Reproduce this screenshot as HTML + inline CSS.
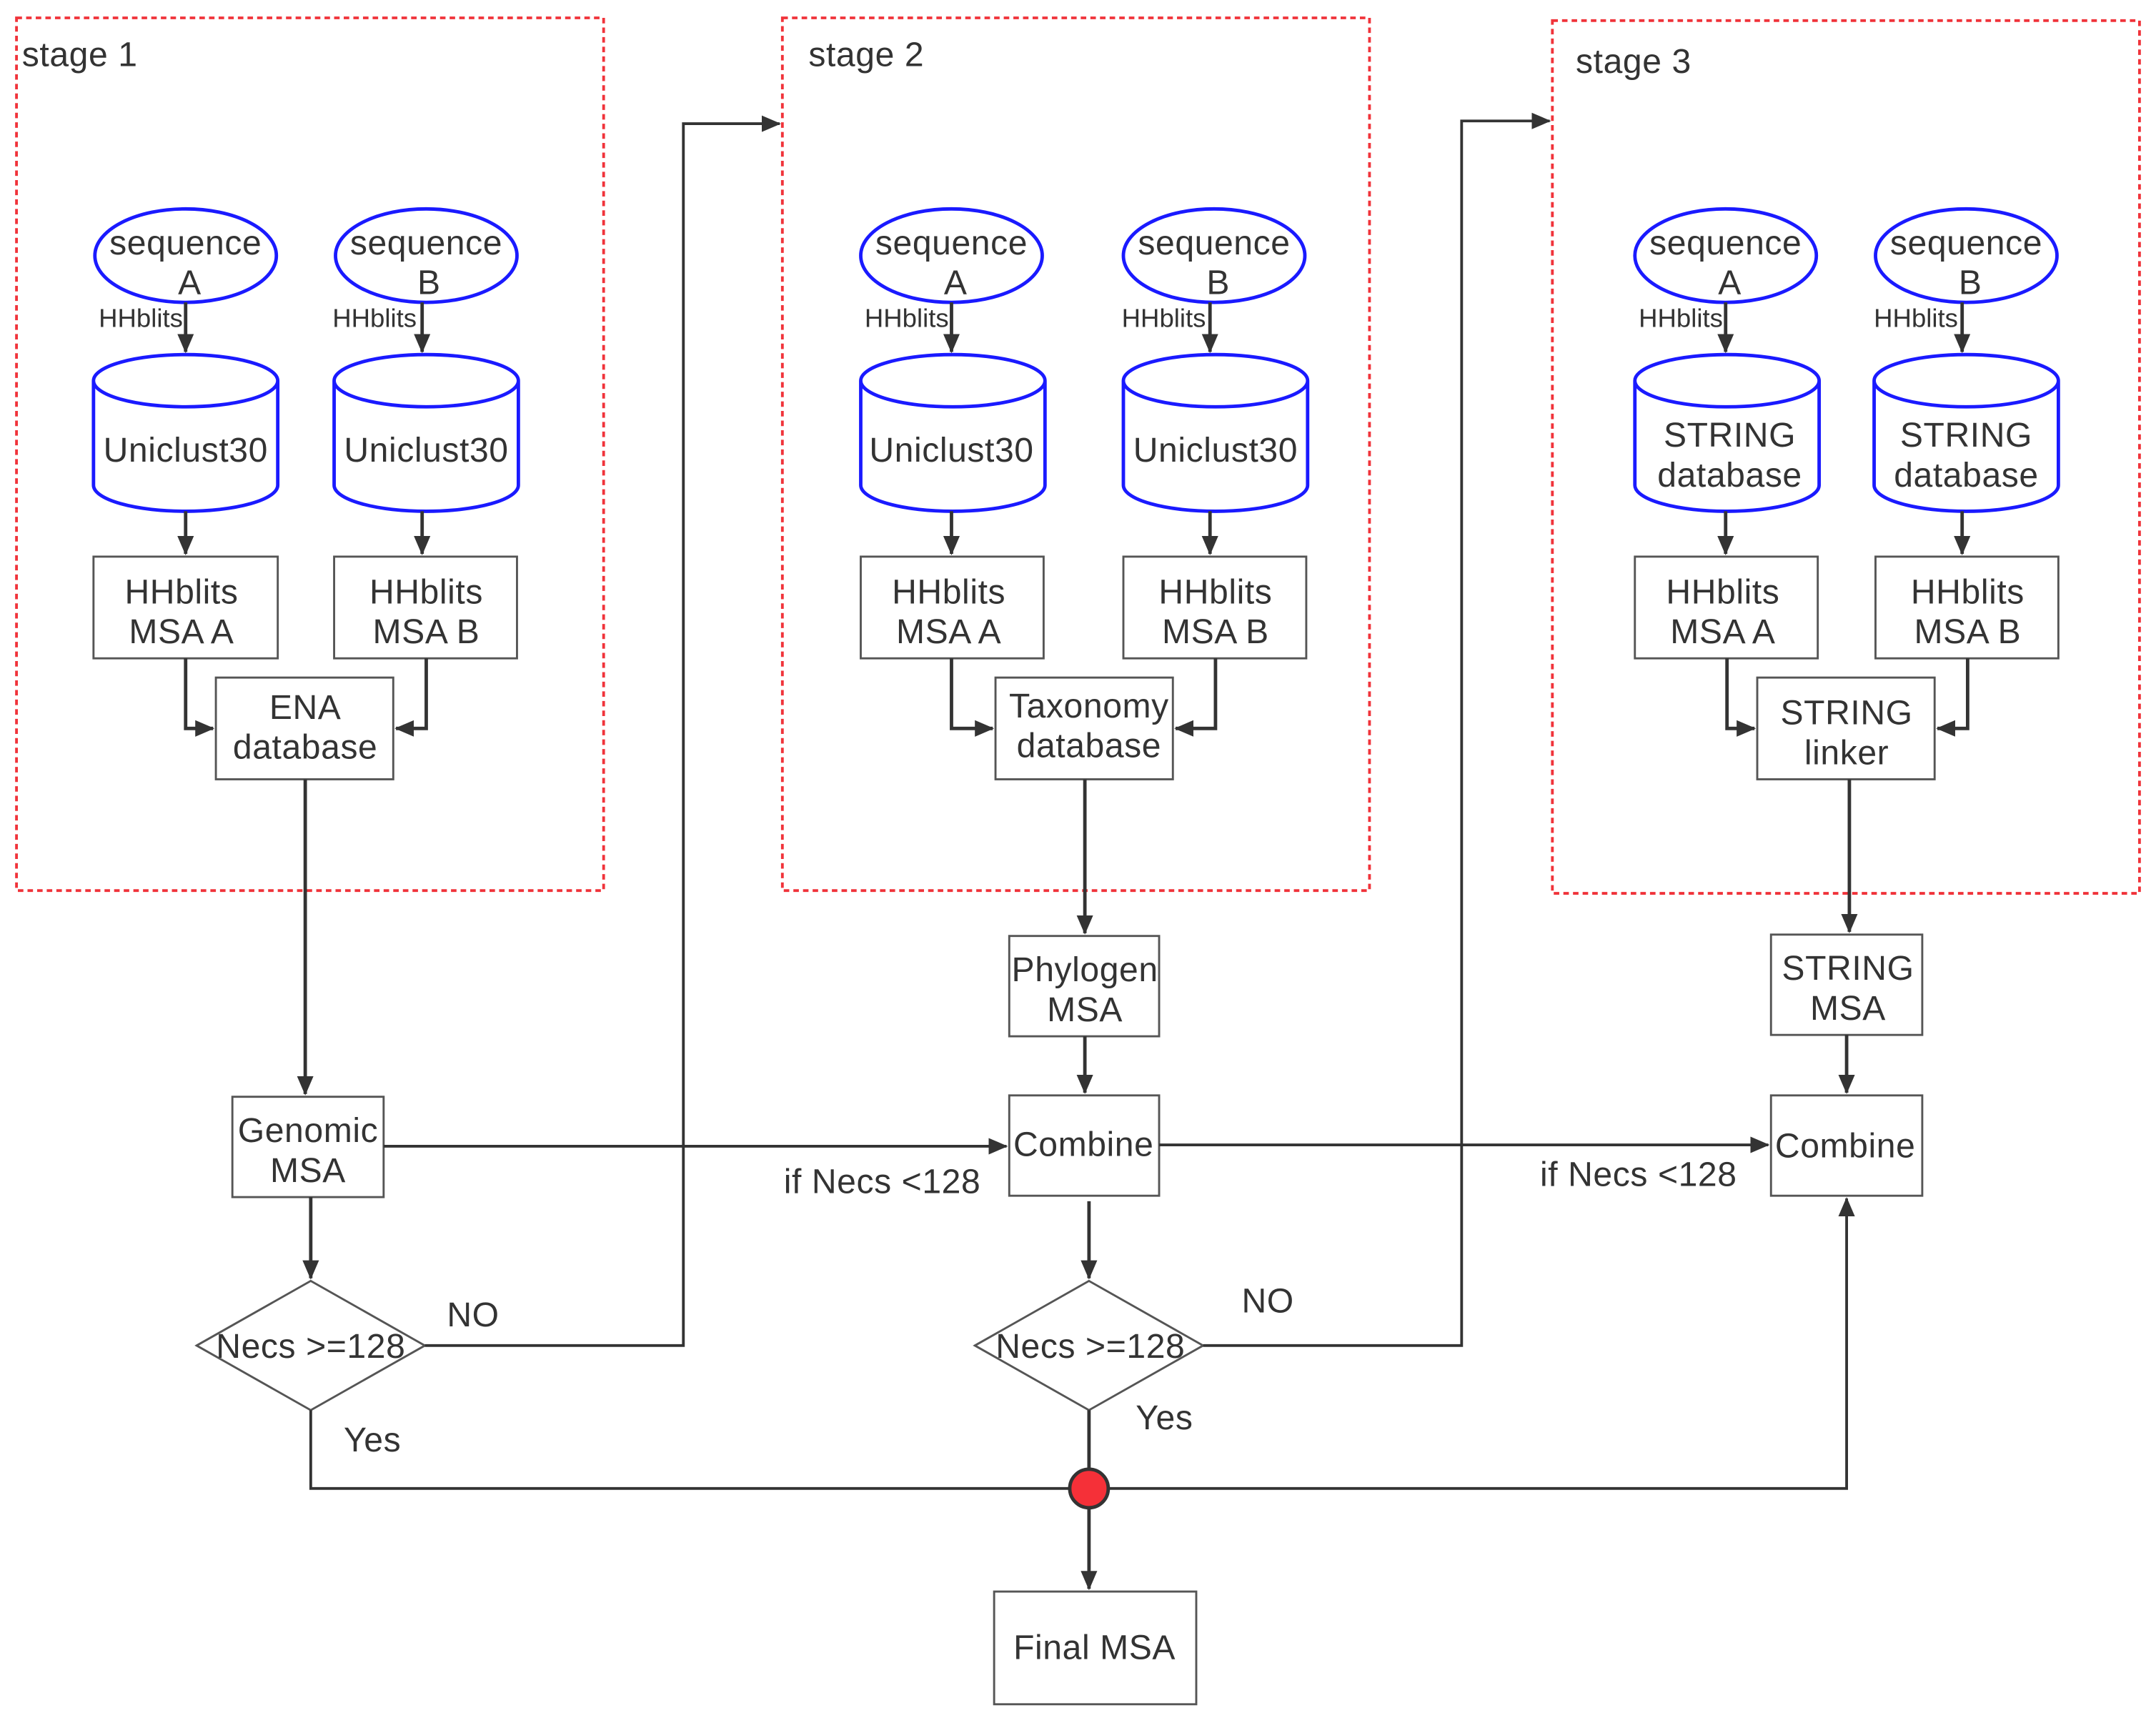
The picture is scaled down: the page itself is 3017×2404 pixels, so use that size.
<!DOCTYPE html>
<html><head><meta charset="utf-8"><style>
html,body{margin:0;padding:0;background:#fff}
svg{display:block}
text{font-family:"Liberation Sans",Arial,sans-serif;fill:#333}
</style></head><body>
<svg width="3017" height="2404" viewBox="0 0 1568 1250" preserveAspectRatio="none" xmlns="http://www.w3.org/2000/svg">
<defs>
<marker id="ar" markerWidth="14" markerHeight="14" refX="13" refY="7" orient="auto" markerUnits="userSpaceOnUse" viewBox="0 0 14 14">
<path d="M0,1 L14,7 L0,13 z" fill="#333"/>
</marker>
</defs>
<rect width="1568" height="1250" fill="#fff"/>
<g fill="none" stroke="#f0333a" stroke-width="2" stroke-dasharray="4,3">
<rect x="12" y="13" width="427" height="635"/>
<rect x="569" y="13" width="427" height="635"/>
<rect x="1129" y="15" width="427" height="635"/>
</g>
<g font-size="25" letter-spacing="0.3">
<text x="16" y="48">stage 1</text>
<text x="588" y="48">stage 2</text>
<text x="1146" y="53">stage 3</text>
</g>
<g stroke-width="2.5" fill="#fff" stroke="#1a1aff">
<ellipse cx="135" cy="186" rx="66" ry="34"/><ellipse cx="310" cy="186" rx="66" ry="34"/>
<ellipse cx="692" cy="186" rx="66" ry="34"/><ellipse cx="883" cy="186" rx="66" ry="34"/>
<ellipse cx="1255" cy="186" rx="66" ry="34"/><ellipse cx="1430" cy="186" rx="66" ry="34"/>
</g>
<g stroke-width="2.5" fill="#fff" stroke="#1a1aff">
<path d="M68,277 v76 a67,19 0 0 0 134,0 v-76 a67,19 0 0 0 -134,0 a67,19 0 0 0 134,0"/>
<path d="M243,277 v76 a67,19 0 0 0 134,0 v-76 a67,19 0 0 0 -134,0 a67,19 0 0 0 134,0"/>
<path d="M626,277 v76 a67,19 0 0 0 134,0 v-76 a67,19 0 0 0 -134,0 a67,19 0 0 0 134,0"/>
<path d="M817,277 v76 a67,19 0 0 0 134,0 v-76 a67,19 0 0 0 -134,0 a67,19 0 0 0 134,0"/>
<path d="M1189,277 v76 a67,19 0 0 0 134,0 v-76 a67,19 0 0 0 -134,0 a67,19 0 0 0 134,0"/>
<path d="M1363,277 v76 a67,19 0 0 0 134,0 v-76 a67,19 0 0 0 -134,0 a67,19 0 0 0 134,0"/>
</g>
<g fill="#fff" stroke="#555" stroke-width="1.5">
<rect x="68" y="405" width="134" height="74"/><rect x="243" y="405" width="133" height="74"/>
<rect x="626" y="405" width="133" height="74"/><rect x="817" y="405" width="133" height="74"/>
<rect x="1189" y="405" width="133" height="74"/><rect x="1364" y="405" width="133" height="74"/>
<rect x="157" y="493" width="129" height="74"/><rect x="724" y="493" width="129" height="74"/><rect x="1278" y="493" width="129" height="74"/>
<rect x="169" y="798" width="110" height="73"/>
<rect x="734" y="681" width="109" height="73"/><rect x="734" y="797" width="109" height="73"/>
<rect x="1288" y="680" width="110" height="73"/><rect x="1288" y="797" width="110" height="73"/>
<rect x="723" y="1158" width="147" height="82"/>
<path d="M143,979 L226,932 L309,979 L226,1026 z"/>
<path d="M709,979 L792,932 L875,979 L792,1026 z"/>
</g>
<g stroke="#333" stroke-width="2.5" fill="none" marker-end="url(#ar)">
<path d="M135,220 V256"/><path d="M307,220 V256"/>
<path d="M692,220 V256"/><path d="M880,220 V256"/>
<path d="M1255,220 V256"/><path d="M1427,220 V256"/>
<path d="M135,372 V403"/><path d="M307,372 V403"/>
<path d="M692,372 V403"/><path d="M880,372 V403"/>
<path d="M1255,372 V403"/><path d="M1427,372 V403"/>
<path d="M135,479 V530 H155"/><path d="M310,479 V530 H288"/>
<path d="M692,479 V530 H722"/><path d="M884,479 V530 H855"/>
<path d="M1256,479 V530 H1276"/><path d="M1431,479 V530 H1409"/>
<path d="M222,567 V796"/>
<path d="M789,567 V679"/><path d="M789,754 V795"/>
<path d="M1345,567 V678"/><path d="M1343,753 V795"/>
<path d="M226,871 V930"/><path d="M792,874 V930"/>
<path d="M279,834 H732" stroke-width="2"/>
<path d="M843,833 H1286" stroke-width="2"/>
<path d="M309,979 H497 V90 H567" stroke-width="2"/>
<path d="M875,979 H1063 V88 H1127" stroke-width="2"/>
<path d="M226,1026 V1083 H1343 V872" stroke-width="2"/>
<path d="M792,1026 V1156"/>
</g>
<circle cx="792" cy="1083" r="14" fill="#f53038" stroke="#333" stroke-width="2.5"/>
<g font-size="25" text-anchor="middle" letter-spacing="0.3">
<text x="135" y="185">sequence</text><text x="138" y="214">A</text>
<text x="310" y="185">sequence</text><text x="312" y="214">B</text>
<text x="692" y="185">sequence</text><text x="695" y="214">A</text>
<text x="883" y="185">sequence</text><text x="886" y="214">B</text>
<text x="1255" y="185">sequence</text><text x="1258" y="214">A</text>
<text x="1430" y="185">sequence</text><text x="1433" y="214">B</text>
<text x="135" y="336">Uniclust30</text><text x="310" y="336">Uniclust30</text>
<text x="692" y="336">Uniclust30</text><text x="884" y="336">Uniclust30</text>
<text x="1258" y="325">STRING</text><text x="1258" y="354">database</text>
<text x="1430" y="325">STRING</text><text x="1430" y="354">database</text>
<text x="132" y="439">HHblits</text><text x="132" y="468">MSA A</text>
<text x="310" y="439">HHblits</text><text x="310" y="468">MSA B</text>
<text x="690" y="439">HHblits</text><text x="690" y="468">MSA A</text>
<text x="884" y="439">HHblits</text><text x="884" y="468">MSA B</text>
<text x="1253" y="439">HHblits</text><text x="1253" y="468">MSA A</text>
<text x="1431" y="439">HHblits</text><text x="1431" y="468">MSA B</text>
<text x="222" y="523">ENA</text><text x="222" y="552">database</text>
<text x="792" y="522">Taxonomy</text><text x="792" y="551">database</text>
<text x="1343" y="527">STRING</text><text x="1343" y="556">linker</text>
<text x="224" y="831">Genomic</text><text x="224" y="860">MSA</text>
<text x="789" y="714">Phylogen</text><text x="789" y="743">MSA</text>
<text x="788" y="841">Combine</text>
<text x="1344" y="713">STRING</text><text x="1344" y="742">MSA</text>
<text x="1342" y="842">Combine</text>
<text x="796" y="1207">Final MSA</text>
<text x="226" y="988">Necs &gt;=128</text>
<text x="793" y="988">Necs &gt;=128</text>
</g>
<g font-size="25" letter-spacing="0.3">
<text x="570" y="868">if Necs &lt;128</text>
<text x="1120" y="863">if Necs &lt;128</text>
<text x="325" y="965">NO</text>
<text x="903" y="955">NO</text>
<text x="250" y="1056">Yes</text>
<text x="826" y="1040">Yes</text>
</g>
<g font-size="19" text-anchor="end">
<text x="133" y="238">HHblits</text><text x="303" y="238">HHblits</text>
<text x="690" y="238">HHblits</text><text x="877" y="238">HHblits</text>
<text x="1253" y="238">HHblits</text><text x="1424" y="238">HHblits</text>
</g>
</svg>
</body></html>
